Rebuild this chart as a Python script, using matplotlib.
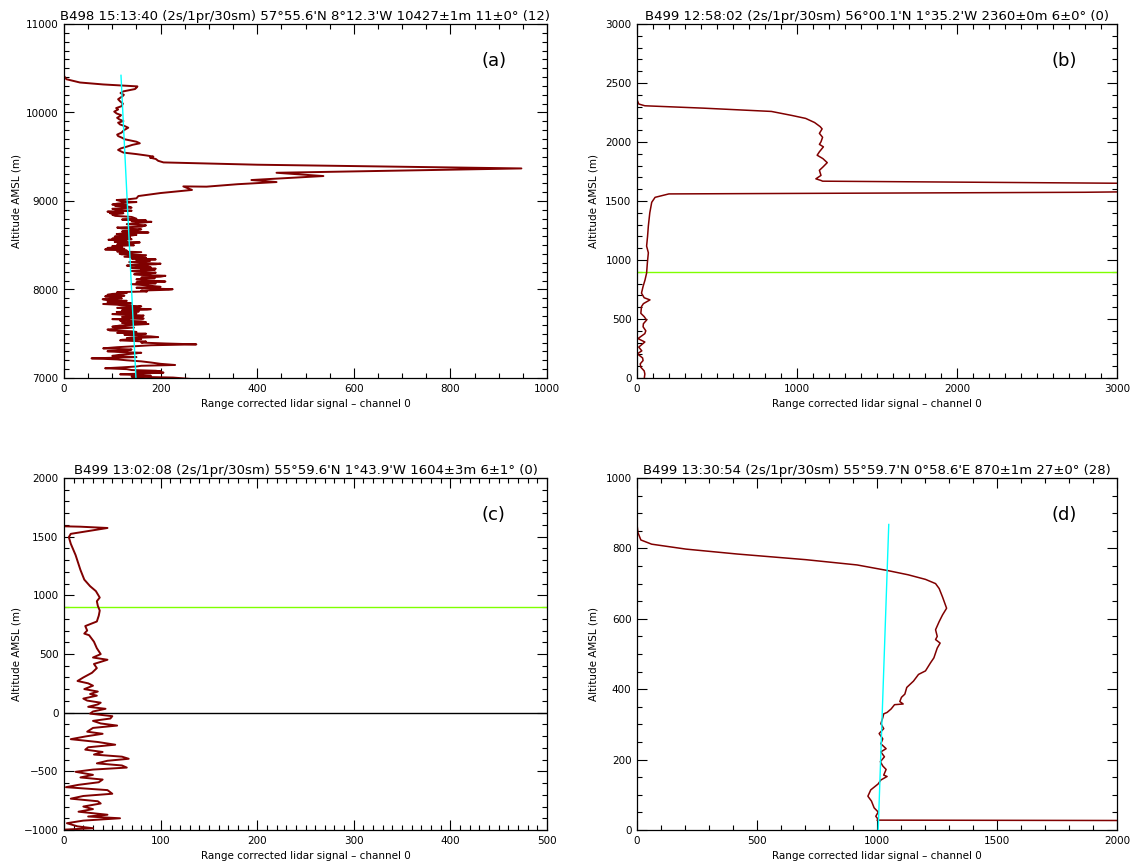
import numpy as np
import matplotlib
matplotlib.use("Agg")
import matplotlib.pyplot as plt
from matplotlib.ticker import MultipleLocator

# ---- panel (a) B498 15:13:40 ----
a_title = "B498 15:13:40 (2s/1pr/30sm) 57°55.6'N 8°12.3'W 10427±1m 11±0° (12)"
a_alt = [10413, 10376, 10339, 10317, 10302, 10295, 10280, 10265, 10239, 10220, 10200, 10183,
         10150, 10127, 10100, 10071, 10050, 10034, 10010, 9989, 9970, 9959, 9940, 9921, 9903,
         9885, 9865, 9848, 9828, 9800, 9772, 9750, 9734, 9715, 9697, 9670, 9652, 9635, 9614,
         9595, 9577, 9560, 9547, 9530, 9515, 9502, 9490, 9475, 9454, 9436, 9410, 9368,
         9319, 9282, 9237, 9214, 9190, 9162, 9165, 9125, 9090, 9056, 9030, 9018, 9011,
         8995, 8988, 8981, 8970, 8960, 8952, 8944, 8935, 8925, 8912, 8900, 8890, 8880, 8870,
         8862, 8862, 8852, 8845, 8832, 8820, 8800, 8790, 8780, 8772, 8765, 8750, 8738, 8725,
         8710, 8700, 8690, 8680, 8670, 8655, 8644, 8635, 8626, 8618, 8610, 8598, 8588, 8580,
         8575, 8568, 8562, 8552, 8545, 8538, 8532, 8520, 8510, 8500, 8490, 8480, 8470, 8460,
         8453, 8440, 8430, 8422, 8415, 8405, 8397, 8388, 8380, 8370, 8360, 8350, 8340, 8330,
         8322, 8310, 8300, 8292, 8285, 8278, 8270, 8260, 8250, 8242, 8235, 8228, 8221, 8210,
         8200, 8190, 8180, 8172, 8165, 8155, 8145, 8135, 8127, 8115, 8100, 8090, 8080, 8070,
         8060, 8045, 8030, 8020, 8010, 8003, 7997, 7988, 7978, 7970, 7960, 7950, 7940, 7930,
         7922, 7910, 7900, 7890, 7880, 7872, 7866, 7858, 7850, 7843, 7836, 7828, 7820, 7810,
         7800, 7792, 7785, 7778, 7772, 7766, 7760, 7752, 7746, 7738, 7730, 7722, 7715, 7706,
         7698, 7690, 7680, 7672, 7665, 7657, 7649, 7640, 7630, 7622, 7615, 7610, 7604, 7592,
         7580, 7570, 7560, 7548, 7537, 7528, 7520, 7510, 7500, 7490, 7480, 7470, 7462, 7450,
         7440, 7432, 7425, 7412, 7400, 7390, 7380, 7370, 7360, 7348, 7335, 7322, 7310, 7302,
         7295, 7285, 7275, 7262, 7250, 7236, 7222, 7210, 7200, 7188, 7175, 7160, 7147, 7138,
         7130, 7120, 7110, 7100, 7090, 7082, 7075, 7068, 7061, 7050, 7042, 7033, 7025, 7015,
         7005, 6990, 6975]
a_sig = [0, 5, 33, 81, 130, 152, 150, 147, 123, 117, 124, 121,
         112, 116, 122, 119, 108, 112, 104, 109, 118, 116, 110, 115, 123,
         112, 116, 125, 133, 124, 119, 110, 112, 120, 126, 150, 157, 142, 130,
         118, 112, 118, 123, 150, 170, 185, 178, 190, 195, 206, 400, 947,
         440, 537, 388, 440, 360, 295, 247, 265, 200, 154, 150, 130, 109,
         120, 150, 130, 110, 100, 130, 106, 135, 140, 100, 110, 140, 90, 120,
         95, 123, 105, 100, 106, 140, 150, 120, 170, 140, 181, 150, 130, 170,
         160, 110, 120, 160, 150, 120, 175, 125, 109, 150, 140, 105, 137, 110,
         100, 140, 92, 120, 130, 105, 157, 120, 110, 145, 100, 120, 90, 125,
         85, 130, 110, 160, 140, 115, 119, 170, 150, 125, 170, 140, 190, 150,
         178, 135, 160, 200, 190, 145, 130, 175, 180, 140, 190, 160, 188, 140,
         150, 190, 175, 145, 157, 210, 200, 160, 188, 150, 170, 210, 150, 190,
         140, 175, 200, 150, 190, 225, 216, 160, 172, 110, 130, 100, 90, 125,
         85, 115, 120, 80, 90, 130, 116, 90, 100, 140, 81, 110, 120, 160,
         150, 110, 140, 180, 172, 120, 130, 155, 109, 130, 150, 100, 120, 165,
         161, 120, 140, 165, 100, 135, 116, 160, 170, 120, 130, 175, 154, 115,
         100, 145, 120, 90, 95, 140, 150, 110, 170, 125, 140, 180, 195, 130,
         160, 120, 116, 170, 160, 210, 274, 180, 150, 110, 81, 140, 130, 90,
         110, 160, 143, 115, 100, 150, 57, 110, 130, 160, 180, 200, 230, 160,
         150, 120, 85, 130, 140, 190, 200, 150, 206, 160, 116, 150, 180, 140,
         226, 260, 299]
a_fit_alt = [10420, 6991]
a_fit_sig = [118, 149]

# ---- panel (b) B499 12:58:02 ----
b_title = "B499 12:58:02 (2s/1pr/30sm) 56°00.1'N 1°35.2'W 2360±0m 6±0° (0)"
b_alt = [2359, 2322, 2307, 2287, 2259, 2225, 2200, 2165, 2130, 2111, 2073, 2040, 2002, 1980,
         1959, 1917, 1888, 1859, 1825, 1788, 1760, 1717, 1688, 1674, 1668, 1622, 1574, 1560,
         1531, 1489, 1400, 1289, 1200, 1118, 1061, 980, 889, 830, 776, 719, 680, 662, 630,
         605, 548, 520, 491, 460, 434, 400, 376, 334, 305, 262, 230, 205, 170, 148, 120, 91,
         60, 34, -9]
b_sig = [0, 11, 49, 413, 840, 968, 1054, 1110, 1145, 1157, 1140, 1160, 1150, 1140,
         1165, 1140, 1126, 1162, 1189, 1162, 1140, 1150, 1118, 1150, 1160, 6000, 2800, 199,
         113, 92, 80, 71, 66, 60, 71, 65, 60, 50, 38, 28, 45, 81, 40,
         28, 24, 45, 60, 40, 38, 55, 49, 6, 49, 11, 30, 2, 35, 38, 20, 24,
         45, 49, 45]
b_ref_alt = 900

# ---- panel (c) B499 13:02:08 ----
c_title = "B499 13:02:08 (2s/1pr/30sm) 55°59.6'N 1°43.9'W 1604±3m 6±1° (0)"
c_alt = [1588, 1585, 1574, 1524, 1496, 1440, 1343, 1217, 1134, 1078, 1036, 981, 950, 911,
         870, 827, 777, 738, 700, 674, 660, 605, 549, 499, 470, 451, 415, 380, 340, 300, 270,
         250, 230, 201, 180, 159, 145, 120, 103, 85, 70, 50, 33, 10, -8, -30, -50, -70, -92,
         -110, -130, -162, -180, -203, -226, -250, -273, -295, -315, -335, -357, -375, -393,
         -410, -432, -450, -468, -485, -504, -530, -552, -570, -593, -615, -635, -660, -691,
         -710, -733, -755, -774, -800, -822, -844, -870, -885, -900, -920, -942, -969, -985,
         -997]
c_sig = [2, 17, 45, 7, 5, 7, 12, 17, 21, 27, 33, 37, 34, 35,
         37, 36, 34, 22, 24, 21, 26, 31, 34, 38, 30, 45, 31, 34, 29, 20, 14,
         25, 30, 21, 35, 27, 34, 20, 24, 38, 35, 25, 43, 30, 27, 50, 48, 30, 38,
         55, 30, 24, 40, 22, 7, 35, 53, 25, 22, 40, 31, 60, 67,
         45, 34, 60, 65, 30, 12, 30, 17, 40, 36, 15, 2, 45, 50,
         20, 7, 35, 38, 20, 30, 15, 45, 25, 58, 20, 3, 14, 30,
         0]
c_ref_alt = 900

# ---- panel (d) B499 13:30:54 ----
d_title = "B499 13:30:54 (2s/1pr/30sm) 55°59.7'N 0°58.6'E 870±1m 27±0° (28)"
d_alt = [868, 845, 824, 812, 798, 784, 768, 753, 737, 725, 712, 700, 686, 662, 630, 611,
         592, 569, 550, 541, 531, 517, 489, 475, 452, 442, 423, 405, 386, 377, 365, 358,
         356, 344, 334, 330, 319, 302, 288, 274, 259, 245, 231, 222, 208, 194, 182, 172,
         156, 152, 142, 131, 114, 96, 82, 63, 51, 39, 30, 28, 26]
d_sig = [0, 4, 16, 61, 204, 418, 703, 917, 1045, 1130, 1202, 1244, 1259, 1273, 1290, 1273,
         1259, 1244, 1251, 1244, 1263, 1251, 1237, 1223, 1202, 1173, 1152, 1124, 1116, 1102, 1095, 1109,
         1073, 1059, 1042, 1028, 1024, 1016, 1028, 1009, 1024, 1016, 1038, 1016, 1031, 1014, 1024, 1038,
         1028, 1042, 1016, 1005, 974, 962, 977, 988, 1005, 995, 1005, 1000, 3000]
d_fit_alt = [868, 0]
d_fit_sig = [1049, 1005]

red = '#800000'
cyan = '#00ffff'
green = '#7fff00'

fig = plt.figure(figsize=(11.39, 8.63), dpi=100)
W, H = 1139.0, 863.0
ax_a = fig.add_axes([64 / W, 1 - 378 / H, 483 / W, 354 / H])
ax_b = fig.add_axes([637 / W, 1 - 378 / H, 480 / W, 354 / H])
ax_c = fig.add_axes([64 / W, 1 - 830 / H, 483 / W, 352 / H])
ax_d = fig.add_axes([637 / W, 1 - 830 / H, 480 / W, 352 / H])


def style(ax, title, letter, xlim, ylim, xmaj, xmin, ymaj, ymin, left):
    ax.set_xlim(xlim)
    ax.set_ylim(ylim)
    ax.xaxis.set_major_locator(MultipleLocator(xmaj))
    ax.xaxis.set_minor_locator(MultipleLocator(xmin))
    ax.yaxis.set_major_locator(MultipleLocator(ymaj))
    ax.yaxis.set_minor_locator(MultipleLocator(ymin))
    ax.tick_params(which='both', direction='in', top=True, right=True, labelsize=7.5, width=0.8)
    ax.tick_params(which='major', length=7, pad=4)
    ax.tick_params(which='minor', length=3.5)
    for s in ax.spines.values():
        s.set_linewidth(0.9)
    ax.set_title(title, fontsize=9.5, pad=3)
    ax.set_xlabel("Range corrected lidar signal \u2013 channel 0", fontsize=7.5)
    ax.set_ylabel("Altitude AMSL (m)", fontsize=7.5)
    ax.yaxis.set_label_coords(left, 0.5)
    ax.xaxis.set_label_coords(0.5, -0.06)
    ax.text(0.89, 0.895, letter, transform=ax.transAxes, fontsize=13, ha='center', va='center')


# (a)
ax_a.plot(a_sig, a_alt, color=red, lw=1.4)
ax_a.plot(a_fit_sig, a_fit_alt, color=cyan, lw=1.0)
style(ax_a, a_title, "(a)", (0, 1000), (7000, 11000), 200, 50, 1000, 100, -0.088)

# (b)
ax_b.axhline(b_ref_alt, color=green, lw=1.0)
ax_b.plot(b_sig, b_alt, color=red, lw=1.1)
style(ax_b, b_title, "(b)", (0, 3000), (0, 3000), 1000, 100, 500, 100, -0.08)

# (c)
ax_c.axhline(c_ref_alt, color=green, lw=1.0)
ax_c.axhline(0, color='black', lw=1.0)
ax_c.plot(c_sig, c_alt, color=red, lw=1.4)
style(ax_c, c_title, "(c)", (0, 500), (-1000, 2000), 100, 10, 500, 100, -0.088)

# (d)
ax_d.plot(d_sig, d_alt, color=red, lw=1.1)
ax_d.plot(d_fit_sig, d_fit_alt, color=cyan, lw=1.0, zorder=3)
style(ax_d, d_title, "(d)", (0, 2000), (0, 1000), 500, 100, 200, 50, -0.08)

fig.savefig("out.png", dpi=100)
